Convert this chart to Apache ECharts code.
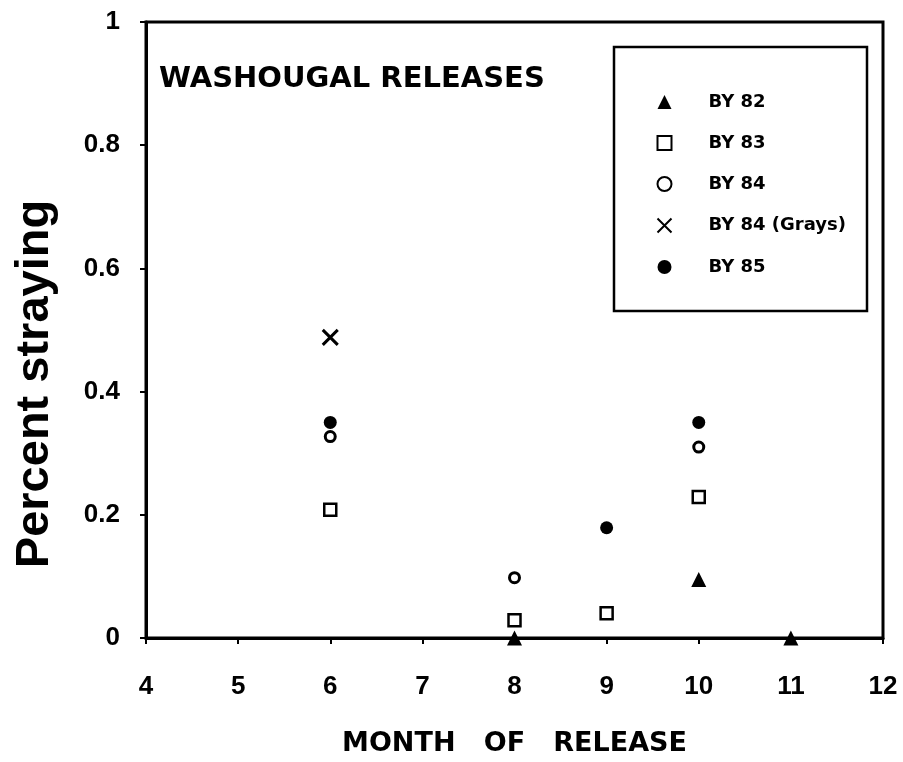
<!DOCTYPE html>
<html>
<head>
<meta charset="utf-8">
<script src="https://cdn.jsdelivr.net/npm/echarts@6/dist/echarts.min.js"></script>
<style>html,body{margin:0;padding:0;background:#fff}#c{width:903px;height:762px}</style>
</head>
<body>
<div id="c"></div>
<script>
const seriesNames = ['BY 82', 'BY 83', 'BY 84', 'BY 84 (Grays)', 'BY 85'];
const by82 = [[8, 0], [10, 0.095], [11, 0]];
const by83 = [[6, 0.208], [8, 0.029], [9, 0.04], [10, 0.229]];
const by84 = [[6, 0.327], [8, 0.098], [10, 0.31]];
const by84Grays = [[6, 0.488]];
const by85 = [[6, 0.35], [9, 0.179], [10, 0.35]];
const titleText = 'WASHOUGAL RELEASES';
const xTitle = 'MONTH   OF   RELEASE';
const yTitle = 'Percent straying';

const chart = echarts.init(document.getElementById('c'), null, {renderer: 'canvas'});
const heavy = 'DejaVu Sans';
const arial = 'Liberation Sans';
const xPath = 'path://M0,0L10,10M10,0L0,10';

chart.setOption({
  backgroundColor: '#fff',
  animation: false,
  title: {
    text: titleText, left: 154, top: 60,
    textStyle: {fontFamily: heavy, fontWeight: 'bold', fontSize: 29, color: '#000'}
  },
  grid: {left: 146, right: 20, top: 22, bottom: 124, show: true, borderColor: '#000', borderWidth: 3, backgroundColor: 'transparent'},
  xAxis: {
    type: 'value', min: 4, max: 12, interval: 1,
    name: xTitle, nameLocation: 'middle', nameGap: 92,
    nameTextStyle: {fontFamily: heavy, fontWeight: 'bold', fontSize: 27, color: '#000'},
    axisLine: {show: true, lineStyle: {color: '#000', width: 3}},
    axisTick: {show: true, length: 6, lineStyle: {color: '#000', width: 2}},
    axisLabel: {margin: 36, fontFamily: arial, fontWeight: 'bold', fontSize: 26, color: '#000'},
    splitLine: {show: false}
  },
  yAxis: {
    type: 'value', min: 0, max: 1, interval: 0.2,
    axisLine: {show: true, lineStyle: {color: '#000', width: 3}},
    axisTick: {show: true, length: 6, lineStyle: {color: '#000', width: 2}},
    axisLabel: {margin: 26, fontFamily: arial, fontWeight: 'bold', fontSize: 26, color: '#000'},
    splitLine: {show: false}
  },
  legend: {
    orient: 'vertical', left: 655, top: 93, padding: 0,
    itemWidth: 14, itemHeight: 14, itemGap: 23,
    data: seriesNames,
    textStyle: {fontFamily: heavy, fontWeight: 'bold', fontSize: 18, color: '#000', padding: [0, 0, 0, 32]}
  },
  graphic: [
    {type: 'rect', shape: {x: 614, y: 47, width: 253, height: 264}, style: {fill: 'none', stroke: '#000', lineWidth: 2.5}, z: 10},
    {type: 'text', x: 35, y: 384, rotation: Math.PI / 2,
     style: {text: yTitle, font: 'bold 47px "Liberation Sans"', fill: '#000', align: 'center', verticalAlign: 'middle'}}
  ],
  series: [
    {name: seriesNames[0], type: 'scatter', data: by82, symbol: 'triangle', symbolSize: 15, clip: false,
     itemStyle: {color: '#000', opacity: 1}},
    {name: seriesNames[1], type: 'scatter', data: by83, symbol: 'rect', symbolSize: 12, clip: false,
     itemStyle: {color: '#fff', borderColor: '#000', borderWidth: 2.5, opacity: 1}},
    {name: seriesNames[2], type: 'scatter', data: by84, symbol: 'circle', symbolSize: 10, clip: false,
     itemStyle: {color: '#fff', borderColor: '#000', borderWidth: 3, opacity: 1}},
    {name: seriesNames[3], type: 'scatter', data: by84Grays, symbol: xPath, symbolSize: 15, clip: false,
     itemStyle: {color: 'none', borderColor: '#000', borderWidth: 3, opacity: 1}},
    {name: seriesNames[4], type: 'scatter', data: by85, symbol: 'circle', symbolSize: 13, clip: false,
     itemStyle: {color: '#000', opacity: 1}}
  ]
});
</script>
</body>
</html>
